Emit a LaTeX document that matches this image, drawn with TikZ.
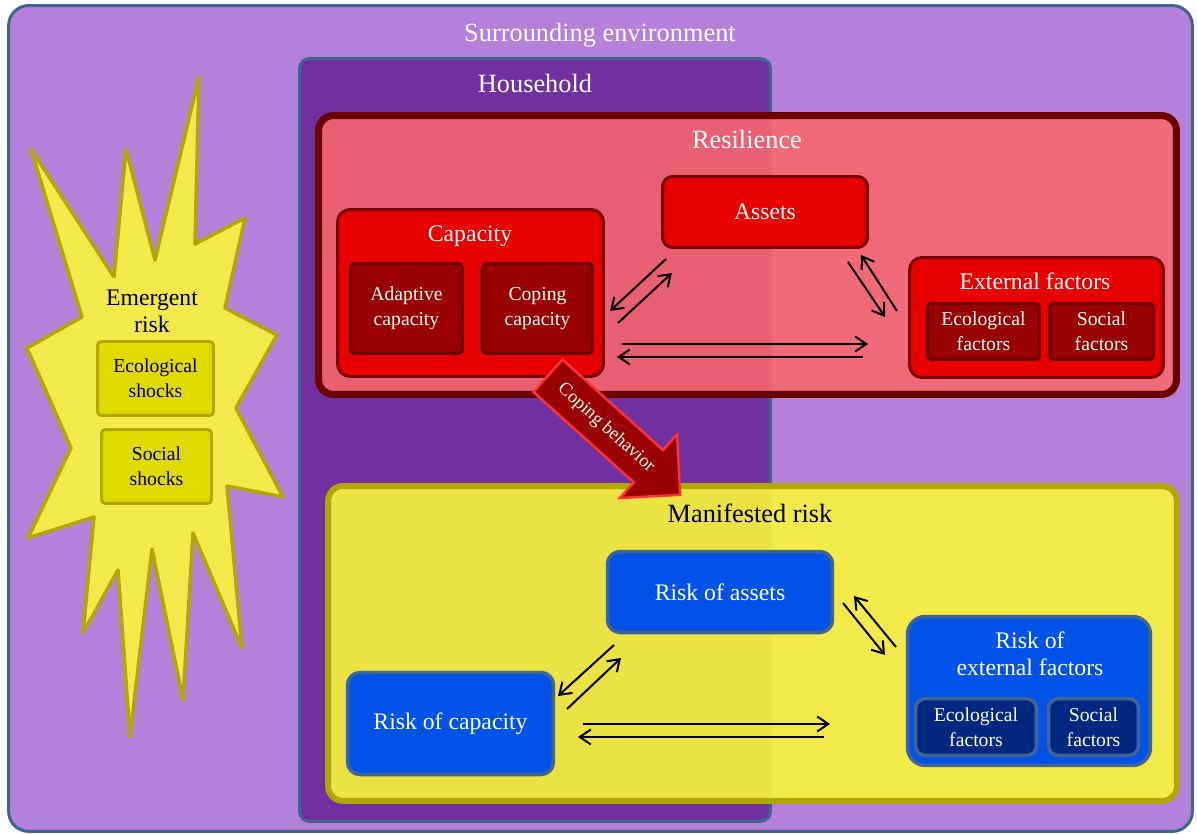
\documentclass[tikz,border=0pt]{standalone}
\usepackage{fontspec}
\setmainfont{Liberation Serif}
\usetikzlibrary{shapes.arrows,arrows.meta,positioning}
\definecolor{envfill}{RGB}{180,128,218}
\definecolor{frameblue}{RGB}{62,100,145}
\definecolor{hhfill}{RGB}{112,48,160}
\definecolor{resfill}{RGB}{250,103,109}
\definecolor{resdraw}{RGB}{107,0,0}
\definecolor{capfill}{RGB}{232,0,0}
\definecolor{capdraw}{RGB}{122,0,0}
\definecolor{subred}{RGB}{153,0,0}
\definecolor{manfill}{RGB}{249,246,58}
\definecolor{mandraw}{RGB}{176,168,0}
\definecolor{starfill}{RGB}{242,234,74}
\definecolor{shockfill}{RGB}{224,218,0}
\definecolor{riskfill}{RGB}{0,82,232}
\definecolor{riskdraw}{RGB}{64,100,150}
\definecolor{subblue}{RGB}{0,40,128}
\definecolor{copedraw}{RGB}{255,51,51}

\begin{document}
\begin{tikzpicture}[x=0.02cm,y=-0.02cm]
\tikzstyle{region}=[rectangle, inner sep=0pt, line width=1.7pt]
\tikzstyle{box}=[rectangle, inner sep=0pt, rounded corners=0.25cm, line width=1.7pt, align=center, text=white, font=\fontsize{13.5}{15.3}\selectfont]
\tikzstyle{redbox}=[box, fill=capfill, draw=capdraw]
\tikzstyle{bluebox}=[box, fill=riskfill, draw=riskdraw, line width=2pt]
\tikzstyle{subbox}=[rectangle, inner sep=0pt, rounded corners=0.08cm, line width=1.7pt, align=center, text=white, font=\fontsize{11.2}{14.2}\selectfont]
\tikzstyle{title}=[inner sep=0pt, text=white, font=\fontsize{15}{18}\selectfont]
\tikzstyle{head}=[inner sep=0pt, align=center, text=white, font=\fontsize{13.5}{15.3}\selectfont]
\tikzstyle{link}=[-{Straight Barb[length=2.2mm,width=3mm]}, line width=1.15pt]
\useasboundingbox (0,0) rectangle (1197,834);

	% outer frames
	\node[region, rounded corners=0.4cm, fill=envfill, draw=frameblue, minimum width=23.68cm, minimum height=16.52cm] (env) at (600.5,418.5) {};
	\node[title] (envtitle) at (600,35) {Surrounding environment};
	\node[region, rounded corners=0.2cm, fill=hhfill, draw=frameblue, minimum width=9.42cm, minimum height=15.26cm] (house) at (535,440) {};
	\node[title] (housetitle) at (535,83) {Household};
	\node[region, rounded corners=0.3cm, fill=resfill, fill opacity=0.88, draw=resdraw, line width=4pt, minimum width=17.16cm, minimum height=5.58cm] (res) at (747.5,255) {};
	\node[title] (restitle) at (747,139) {Resilience};
	\node[region, rounded corners=0.3cm, fill=manfill, fill opacity=0.9, draw=mandraw, line width=3.4pt, minimum width=16.98cm, minimum height=6.3cm] (man) at (752.5,643.5) {};
	\node[title, text=black] (mantitle) at (750,513) {Manifested risk};

	% emergent risk
	\draw[fill=starfill, draw=mandraw, line width=2pt, line join=round]
		(31,149) -- (114,277) -- (126,149) -- (155,260) -- (199,77) -- (195,244)
		-- (245,218) -- (225,308) -- (277,335) -- (236,408) -- (283,497) -- (227,486)
		-- (242,648) -- (193,533) -- (183,700) -- (152,549) -- (130,737) -- (118,570)
		-- (83,633) -- (94,517) -- (28,538) -- (71,448) -- (27,348) -- (82,317) -- cycle;
	\node[head, text=black] (emerg) at (152,311) {Emergent\\risk};
	\node[subbox, fill=shockfill, draw=mandraw, text=black, minimum width=2.32cm, minimum height=1.48cm] (ecoshock) at (155.5,378.5) {Ecological\\shocks};
	\node[subbox, fill=shockfill, draw=mandraw, text=black, minimum width=2.2cm, minimum height=1.48cm] (socshock) at (156.5,466.5) {Social\\shocks};

	% resilience
	\node[redbox, minimum width=5.32cm, minimum height=3.34cm] (cap) at (470.5,293) {};
	\node[head] (captitle) at (470,236) {Capacity};
	\node[subbox, fill=subred, draw=resdraw, minimum width=2.24cm, minimum height=1.8cm] (adapt) at (406.5,308.5) {Adaptive\\capacity};
	\node[subbox, fill=subred, draw=resdraw, minimum width=2.2cm, minimum height=1.8cm] (cope) at (537.5,308.5) {Coping\\capacity};
	\node[redbox, rounded corners=0.2cm, minimum width=4.1cm, minimum height=1.42cm] (assets) at (765,212) {Assets};
	\node[redbox, minimum width=5.08cm, minimum height=2.4cm] (ext) at (1036.5,317.5) {};
	\node[head] (exttitle) at (1035,281) {External factors};
	\node[subbox, fill=subred, draw=resdraw, minimum width=2.24cm, minimum height=1.12cm] (ecofac) at (983.5,331.5) {Ecological\\factors};
	\node[subbox, fill=subred, draw=resdraw, minimum width=2.08cm, minimum height=1.12cm] (socfac) at (1101.5,331.5) {Social\\factors};

	% manifested risk
	\node[bluebox, minimum width=4.5cm, minimum height=1.62cm] (rassets) at (720,592) {Risk of assets};
	\node[bluebox, minimum width=4.12cm, minimum height=2.04cm] (rcap) at (450.5,723.5) {Risk of capacity};
	\node[bluebox, rounded corners=0.36cm, minimum width=4.86cm, minimum height=2.98cm] (rext) at (1029,691) {};
	\node[head] (rexttitle) at (1030,654) {Risk of\\external factors};
	\node[subbox, fill=subblue, draw=riskdraw, line width=2pt, rounded corners=0.2cm, minimum width=2.42cm, minimum height=1.14cm] (recofac) at (976,727) {Ecological\\factors};
	\node[subbox, fill=subblue, draw=riskdraw, line width=2pt, rounded corners=0.2cm, minimum width=1.8cm, minimum height=1.14cm] (rsocfac) at (1093.5,727) {Social\\factors};

	% arrow ends
	\coordinate (r1a) at (666,259); \coordinate (r1b) at (610,311);
	\coordinate (r2a) at (618,323); \coordinate (r2b) at (672,273);
	\coordinate (r3a) at (848,262); \coordinate (r3b) at (885,317);
	\coordinate (r4a) at (897,311); \coordinate (r4b) at (861,255);
	\coordinate (r5a) at (622,344); \coordinate (r5b) at (868,344);
	\coordinate (r6a) at (863,357); \coordinate (r6b) at (617,357);
	\coordinate (m1a) at (614,645); \coordinate (m1b) at (558,696);
	\coordinate (m2a) at (567,709); \coordinate (m2b) at (621,658);
	\coordinate (m3a) at (843,603); \coordinate (m3b) at (885,655);
	\coordinate (m4a) at (896,647); \coordinate (m4b) at (854,596);
	\coordinate (m5a) at (583,724); \coordinate (m5b) at (830,724);
	\coordinate (m6a) at (824,737); \coordinate (m6b) at (578,737);

	\draw[link] (r1a) -- (r1b);
	\draw[link] (r2a) -- (r2b);
	\draw[link] (r3a) -- (r3b);
	\draw[link] (r4a) -- (r4b);
	\draw[link] (r5a) -- (r5b);
	\draw[link] (r6a) -- (r6b);
	\draw[link] (m1a) -- (m1b);
	\draw[link] (m2a) -- (m2b);
	\draw[link] (m3a) -- (m3b);
	\draw[link] (m4a) -- (m4b);
	\draw[link] (m5a) -- (m5b);
	\draw[link] (m6a) -- (m6b);

	% coping behavior
	\node[single arrow, rotate=-42, fill=subred, draw=copedraw, line width=1.4pt,
		single arrow tip angle=90, single arrow head extend=0.42cm, single arrow head indent=0pt,
		minimum height=3.56cm, inner xsep=2pt, inner ysep=6.9pt,
		text=white, font=\fontsize{10.5}{12}\selectfont] (behav) at (606,428) {Coping behavior};
\end{tikzpicture}
\end{document}
